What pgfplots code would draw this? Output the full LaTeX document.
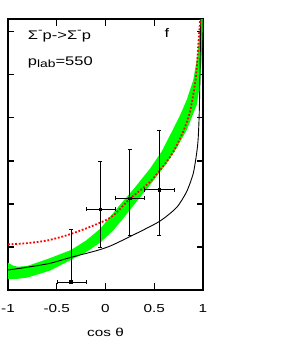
\documentclass[border=0pt]{standalone}
\usepackage{fontspec}
\setmainfont{Liberation Sans}[FakeStretch=1.32]
\usepackage{pgfplots}
\pgfplotsset{compat=1.18}
\newcommand{\mysub}[1]{\raisebox{-2.5pt}{\fontsize{10.5}{12}\selectfont #1}}
\newcommand{\mysup}[1]{\raisebox{5.5pt}{\fontsize{10.5}{12}\selectfont #1}}
\begin{document}
\fontsize{12.5}{14}\selectfont
\begin{tikzpicture}[x=1pt,y=1pt]
\useasboundingbox (0,0) rectangle (292,337);
\begin{axis}[
  at={(8pt,47pt)}, anchor=south west, scale only axis,
  width=195pt, height=271pt,
  xmin=-1, xmax=1, ymin=0, ymax=6.3,
  xtick={-1,-0.5,0,0.5,1}, xticklabels={-1,-0.5,0,0.5,1},
  ytick={1,2,3,4,5,6}, yticklabels={},
  tick align=inside, major tick length=6.5pt,
  tick style={black, line width=1.1pt},
  axis line style={line width=1.5pt},
  xticklabel style={anchor=base, yshift=-23pt, font=\fontsize{11.6}{13}\selectfont},
  xlabel={cos θ},
  xlabel style={at={(axis description cs:0.5,0)}, anchor=base, yshift=-46pt, font=\fontsize{11.6}{13}\selectfont},
  clip=true,
]
% green band
\addplot[fill={rgb,255:red,0;green,255;blue,0}, draw=none] coordinates {
(-1,0.635) (-0.95,0.57) (-0.9,0.54) (-0.8,0.56) (-0.57,0.74) (-0.354,0.93) (-0.2,1.15) (-0.056,1.42) (0.149,1.98) (0.3,2.38) (0.456,2.82) (0.576,3.22) (0.68,3.68) (0.764,4.06) (0.833,4.42) (0.9,4.88) (0.94,5.4) (0.965,6.0) (0.98,6.6)
(1.0,6.6) (0.995,6.0) (0.985,5.3) (0.965,4.72) (0.935,4.3) (0.833,3.72) (0.73,3.30) (0.628,2.95) (0.45,2.42) (0.282,1.95) (0.166,1.62) (0.077,1.38) (-0.056,1.10) (-0.2,0.88) (-0.354,0.70) (-0.57,0.45) (-0.8,0.29) (-0.9,0.26) (-1,0.25)
} -- cycle;
% black solid
\addplot[black, line width=0.9pt, smooth, tension=0.4] coordinates {
(-1,0.465) (-0.8,0.53) (-0.57,0.62) (-0.354,0.76) (-0.1,0.91) (0.046,1.02) (0.25,1.24) (0.55,1.59) (0.73,1.92) (0.833,2.29) (0.9,2.71) (0.935,3.18) (0.95,3.5) (0.96,4.0) (0.966,4.6) (0.972,5.5) (0.978,6.4)
};
% red dotted
\addplot[red, line width=1.8pt, dash pattern=on 1.8pt off 1.8pt, smooth, tension=0.4] coordinates {
(-1,1.06) (-0.8,1.09) (-0.6,1.15) (-0.4,1.27) (-0.2,1.43) (0,1.62) (0.1,1.77) (0.25,2.12) (0.45,2.50) (0.6,2.90) (0.7,3.23) (0.8,3.70) (0.867,4.15) (0.925,4.90) (0.952,5.70) (0.97,6.28) (0.985,6.8)
};
% data with error bars
\addplot[black, only marks, mark=square*, mark size=1.3pt,
  error bars/.cd, x dir=both, x explicit, y dir=both, y explicit,
  error bar style={line width=0.9pt, black},
  error mark options={rotate=90, mark size=2pt, line width=0.9pt, black}]
  table[x=x, y=y, x error minus=exm, x error plus=exp, y error minus=eym, y error plus=eyp] {
x      y     exm    exp    eym   eyp
-0.354 0.186 0.143  0.154  0.0   1.21
-0.056 1.88  0.144  0.153  0.88  1.12
0.248  2.13  0.151  0.150  0.87  1.14
0.552  2.33  0.154  0.154  1.07  1.37
};
\node[anchor=base west, inner sep=0pt] at (axis cs:-0.798,5.83) {Σ\mysup{-}p->Σ\mysup{-}p};
\node[anchor=base west, inner sep=0pt] at (axis cs:-0.798,5.23) {p\mysub{lab}=550};
\node[anchor=base west, inner sep=0pt] at (axis cs:0.604,5.88) {f};
\end{axis}
\end{tikzpicture}
\end{document}
